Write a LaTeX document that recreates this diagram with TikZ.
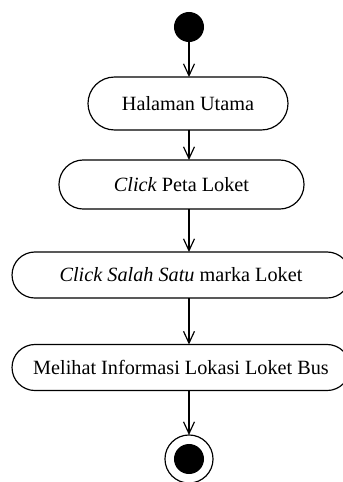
\documentclass[tikz,border=0pt]{standalone}
\usepackage{fontspec}
\setmainfont{Liberation Serif}
\usetikzlibrary{arrows.meta}
\begin{document}
\begin{tikzpicture}[x=0.593pt, y=-0.593pt, line width=0.7pt,
    ->, >={Straight Barb[length=7pt, width=6.5pt]},
    activity/.style={draw, rectangle, inner sep=0pt, outer sep=0pt, font=\fontsize{12}{14}\selectfont},
    startdot/.style={circle, fill, inner sep=0pt, outer sep=0pt, minimum size=17.8pt},
    enddot/.style={circle, draw, inner sep=0pt, outer sep=0pt, minimum size=28.5pt}]
    \useasboundingbox (0,0) rectangle (343,482);
    %nodes
    \node[startdot] at (189,27) (start) {};
    \node[activity, minimum width=118.6pt, minimum height=31.4pt, rounded corners=15.7pt] at (188,103.5) (home) {Halaman Utama};
    \node[activity, minimum width=145.3pt, minimum height=29.1pt, rounded corners=14.5pt] at (181.5,184.5) (map) {\textit{Click} Peta Loket};
    \node[activity, minimum width=200.4pt, minimum height=27.3pt, rounded corners=13.6pt] at (181,275) (marker) {\textit{Click Salah Satu} marka Loket};
    \node[activity, minimum width=200.4pt, minimum height=27.3pt, rounded corners=13.6pt] at (181,367.5) (info) {Melihat Informasi Lokasi Loket Bus};
    \node[enddot] at (189,459) (stop) {};
    \fill (stop.center) circle (8.9pt);
    %edges
    \draw (start) -- (start |- home.north);
    \draw (home.south -| start) -- (map.north -| start);
    \draw (map.south -| start) -- (marker.north -| start);
    \draw (marker.south -| start) -- (info.north -| start);
    \draw (info.south -| start) -- (stop);
\end{tikzpicture}
\end{document}
